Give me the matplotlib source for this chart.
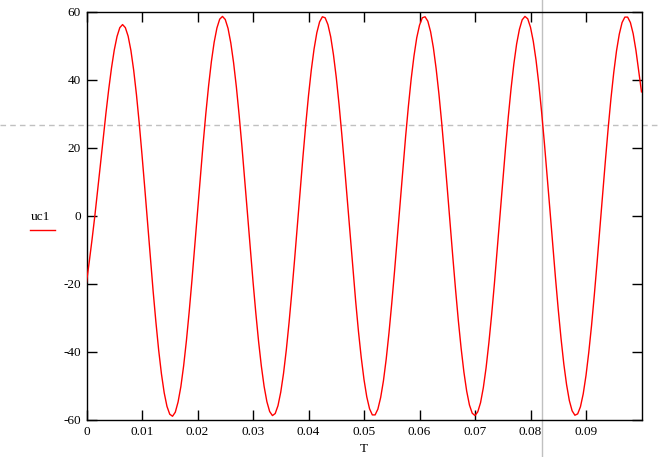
import numpy as np
import matplotlib
matplotlib.use("Agg")
import matplotlib.pyplot as plt
from matplotlib.lines import Line2D

plt.rcParams['font.family'] = ['Liberation Serif', 'DejaVu Serif']
plt.rcParams['axes.unicode_minus'] = False

t_start = 0.0
t_step = 0.0005
uc1 = [
    -19.5, -13.4, -6.9, 0.0, 7.4, 15.0, 22.7, 30.2, 37.2, 43.5,
    48.8, 52.8, 55.4,
    56.3, 55.4, 52.9, 48.7, 42.9, 35.7, 27.3, 18.0, 8.2, -2.0,
    -12.2, -22.0, -31.1, -39.4, -46.4, -52.0, -56.0, -58.3, -58.9, -57.7,
    -54.7, -50.2, -44.1, -36.7, -28.2, -18.9, -9.0, 1.1, 11.2, 21.0,
    30.1, 38.3, 45.4, 51.1, 55.3, 57.9, 58.7, 57.8, 55.2, 50.9,
    45.1, 38.0, 29.7, 20.6, 10.8, 0.8, -9.3, -19.2, -28.4, -36.8,
    -44.1, -50.1, -54.6, -57.5, -58.7, -58.1, -55.8, -51.8, -46.3, -39.4,
    -31.3, -22.3, -12.7, -2.6, 7.5, 17.4, 26.8, 35.4, 42.9, 49.1,
    53.9, 57.1, 58.6, 58.3, 56.3, 52.7, 47.4, 40.8, 32.9, 24.0,
    14.5, 4.5, -5.7, -15.6, -25.1, -33.9, -41.6, -48.1, -53.2, -56.7,
    -58.5, -58.5, -56.8, -53.4, -48.5, -42.1, -34.4, -25.7, -16.3, -6.3,
    3.8, 13.8, 23.4, 32.3, 40.3, 47.0, 52.4, 56.1, 58.3, 58.6,
    57.3, 54.2, 49.5, 43.3, 35.9, 27.4, 18.0, 8.2, -2.0, -12.0,
    -21.7, -30.8, -38.9, -45.9, -51.5, -55.6, -58.0, -58.7, -57.6, -54.9,
    -50.5, -44.6, -37.3, -29.0, -19.8, -10.0, 0.1, 10.2, 20.0, 29.2,
    37.5, 44.7, 50.6, 54.9, 57.7, 58.7, 58.0, 55.5, 51.4, 45.8,
    38.8, 30.6, 21.5, 11.8, 1.8, -8.4, -18.2, -27.5, -36.0, -43.5,
    -49.6, -54.3, -57.3, -58.6, -58.2, -56.1, -52.3, -46.9, -40.1, -32.2,
    -23.2, -13.6, -3.6, 6.5, 16.4, 25.9, 34.6, 42.2, 48.6, 53.5,
    56.9, 58.5, 58.5, 56.9, 53.6, 48.7, 42.6, 36.5,
]
T = t_start + t_step * np.arange(len(uc1))

x_ticks = [0, 0.01, 0.02, 0.03, 0.04, 0.05, 0.06, 0.07, 0.08, 0.09]
x_labels = ['0', '0.01', '0.02', '0.03', '0.04', '0.05', '0.06', '0.07', '0.08', '0.09']
y_ticks = [-60, -40, -20, 0, 20, 40, 60]
y_labels = ['-60', '-40', '-20', '0', '20', '40', '60']
cursor_t = 0.0821
cursor_v = 26.8

W, H = 661, 457
fig = plt.figure(figsize=(W/100, H/100), dpi=100)
L, R, TOP, BOT = 86.5, 641.5, 12, 420
ax = fig.add_axes([L/W, (H-BOT)/H, (R-L)/W, (BOT-TOP)/H])
ax.set_xlim(0, 0.1)
ax.set_ylim(-60, 60)

ax.plot(T, uc1, color='#ff0000', lw=1.0, zorder=3)

ax.axvline(cursor_t, ymin=-(H-BOT)/(BOT-TOP), ymax=1+TOP/(BOT-TOP), color='#c0c0c0', lw=1.0, clip_on=False, zorder=2)
ax.axhline(cursor_v, xmin=-L/(R-L), xmax=1+(W-R)/(R-L), color='#c0c0c0', lw=1.0, ls=(0, (4, 3)), clip_on=False, zorder=2)

ax.set_xticks(x_ticks)
ax.set_xticklabels(x_labels)
ax.set_yticks(y_ticks)
ax.set_yticklabels(y_labels)
ax.tick_params(direction='in', length=7, width=1, top=True, right=True, labelsize=9.5, pad=4, colors='black')
for s in ax.spines.values():
    s.set_linewidth(1.0)
    s.set_color('black')
ax.set_xlabel('T', fontsize=9.5, labelpad=4)

fig.text(40/W, 1-217/H, 'uc1', ha='center', va='center', fontsize=9.5)
fig.add_artist(Line2D([30/W, 55/W], [1-230/H, 1-230/H], color='#ff0000', lw=1.0, transform=fig.transFigure))

fig.savefig('out.png', dpi=100)
